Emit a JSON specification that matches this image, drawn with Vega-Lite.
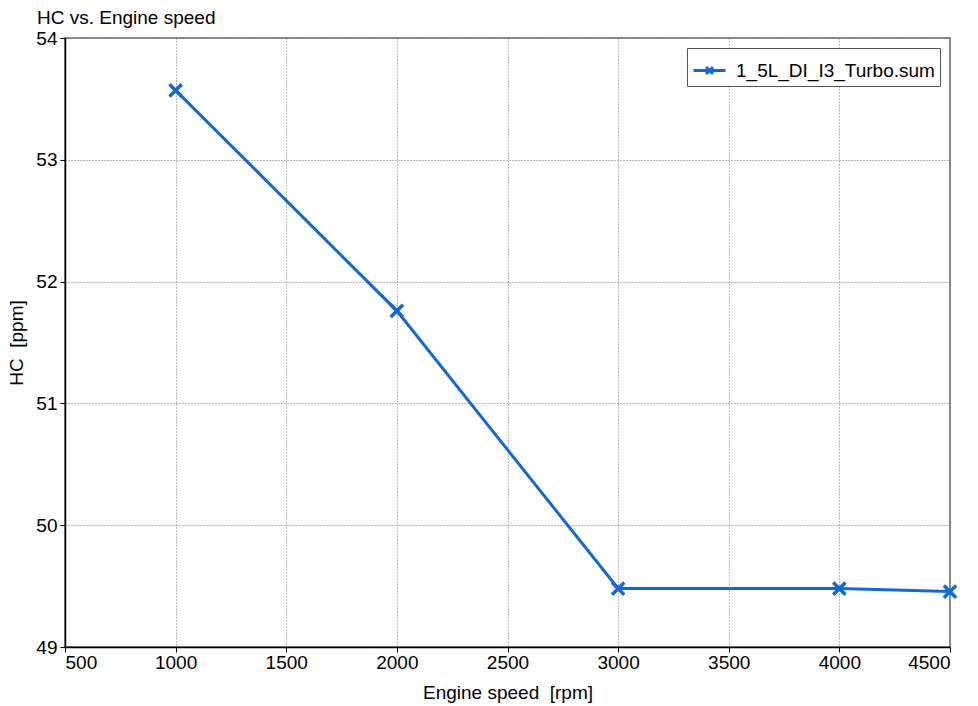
{
  "$schema": "https://vega.github.io/schema/vega-lite/v6.json",
  "width": 885,
  "height": 609,
  "autosize": {"type": "none"},
  "padding": {"left": 65, "top": 38, "right": 28, "bottom": 59},
  "background": "white",
  "title": {
    "text": "HC vs. Engine speed",
    "anchor": "start",
    "frame": "group",
    "dx": -28,
    "offset": 1,
    "fontSize": 19,
    "font": "Liberation Sans",
    "fontWeight": "normal",
    "color": "#000"
  },
  "config": {
    "font": "Liberation Sans",
    "view": {"stroke": "#666", "strokeWidth": 1.5},
    "axis": {
      "labelFont": "Liberation Sans",
      "labelFontSize": 19,
      "labelColor": "#000",
      "titleFont": "Liberation Sans",
      "titleFontSize": 19,
      "titleFontWeight": "normal",
      "titleColor": "#000",
      "domainColor": "#000",
      "domainWidth": 1.5,
      "tickColor": "#000",
      "tickSize": 5,
      "gridColor": "#777",
      "gridDash": [1, 2],
      "gridWidth": 1
    }
  },
  "data": {
    "values": [
      {"speed": 1000, "hc": 53.57, "case": "1_5L_DI_I3_Turbo.sum"},
      {"speed": 2000, "hc": 51.76, "case": "1_5L_DI_I3_Turbo.sum"},
      {"speed": 3000, "hc": 49.48, "case": "1_5L_DI_I3_Turbo.sum"},
      {"speed": 4000, "hc": 49.48, "case": "1_5L_DI_I3_Turbo.sum"},
      {"speed": 4500, "hc": 49.455, "case": "1_5L_DI_I3_Turbo.sum"}
    ]
  },
  "encoding": {
    "x": {
      "field": "speed",
      "type": "quantitative",
      "scale": {"domain": [500, 4500], "nice": false, "zero": false},
      "axis": {
        "title": "Engine speed\u00a0\u00a0[rpm]",
        "values": [500, 1000, 1500, 2000, 2500, 3000, 3500, 4000, 4500],
        "labelPadding": 1,
        "titlePadding": 11,
        "format": "d"
      }
    },
    "y": {
      "field": "hc",
      "type": "quantitative",
      "scale": {"domain": [49, 54], "nice": false, "zero": false},
      "axis": {
        "title": "HC\u00a0\u00a0[ppm]",
        "values": [49, 50, 51, 52, 53, 54],
        "labelPadding": 3,
        "titlePadding": 9
      }
    },
    "color": {
      "field": "case",
      "type": "nominal",
      "scale": {"range": ["#1468d3"]},
      "legend": {
        "title": null,
        "orient": "top-right",
        "offset": 10,
        "padding": 5,
        "strokeColor": "#555",
        "fillColor": "white",
        "labelFontSize": 19,
        "labelFont": "Liberation Sans",
        "labelColor": "#000",
        "labelOffset": 9,
        "labelLimit": 400,
        "symbolType": "M-1,0L1,0M-0.22,-0.22L0.22,0.22M-0.22,0.22L0.22,-0.22",
        "symbolSize": 1024,
        "symbolStrokeWidth": 3,
        "symbolFillColor": "transparent"
      }
    }
  },
  "layer": [
    {
      "mark": {"type": "line", "strokeWidth": 3}
    },
    {
      "mark": {
        "type": "point",
        "shape": "M-1,-1L1,1M-1,1L1,-1",
        "filled": false,
        "size": 150,
        "strokeWidth": 3.5,
        "opacity": 1
      }
    }
  ]
}
